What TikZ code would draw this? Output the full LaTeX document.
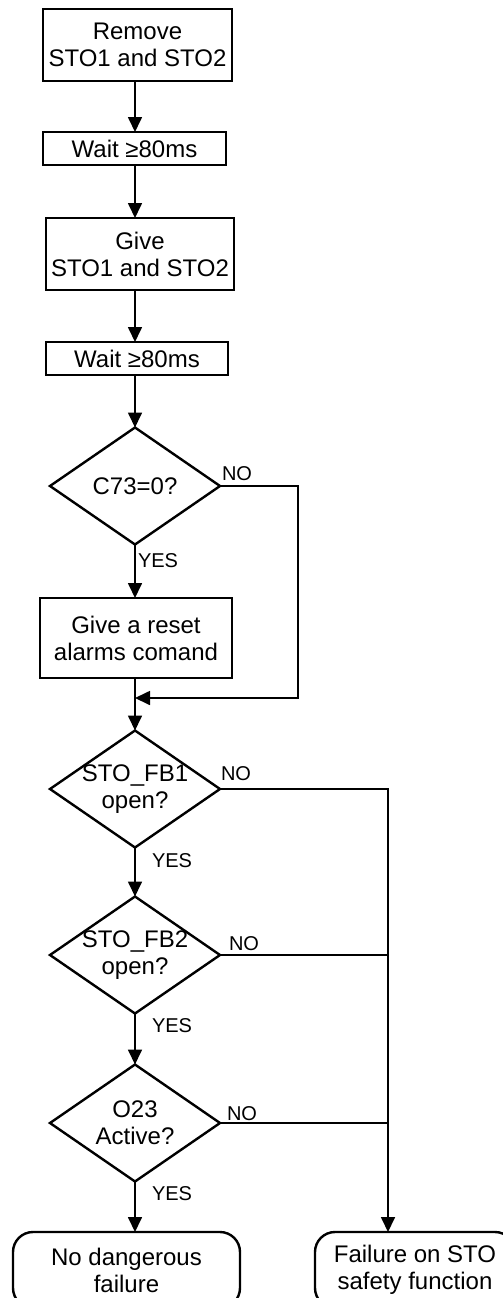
\documentclass[tikz,border=0pt]{standalone}
\usepackage{fontspec}
\setmainfont{Liberation Sans}
\usetikzlibrary{arrows.meta,shapes.geometric}
\begin{document}
\begin{tikzpicture}[x=1pt,y=-1pt,
  every node/.style={inner sep=0pt, outer sep=0pt},
  mainfont/.style={font=\fontsize{24}{27}\selectfont},
  proc/.style={draw, line width=2.4pt, align=center, mainfont},
  term/.style={draw, line width=2.4pt, rounded corners=20pt, align=center, mainfont},
  dec/.style={draw, diamond, line width=2.4pt, minimum width=170pt, minimum height=117pt},
  dtext/.style={align=center, mainfont},
  lbl/.style={font=\fontsize{20}{22}\selectfont, anchor=base west},
  conn/.style={line width=1.7pt},
  arr/.style={conn, -{Triangle[width=14pt,length=15pt]}}
]
\useasboundingbox (0,0) rectangle (503,1298);
\coordinate (col) at (135,0);
\coordinate (bus) at (388,0);
\coordinate (loop) at (298,0);
\coordinate (mrg) at (135,698);

\node[proc, minimum width=189pt, minimum height=72pt] (b1) at (137.5,45) {Remove\\STO1 and STO2};
\node[proc, minimum width=183pt, minimum height=33pt] (b2) at (134.5,148.5) {Wait ≥80ms};
\node[proc, minimum width=188pt, minimum height=72pt] (b3) at (140,254) {Give\\STO1 and STO2};
\node[proc, minimum width=182pt, minimum height=33pt] (b4) at (137,358.5) {Wait ≥80ms};
\node[dec] (d0) at (135,486) {};
\node[dtext] (d0t) at (d0) {C73=0?};
\node[proc, minimum width=192pt, minimum height=80pt] (b5) at (136,638) {Give a reset\\alarms comand};
\node[dec] (d1) at (135,789) {};
\node[dtext] (d1t) at (d1) {STO\_FB1\\open?};
\node[dec] (d2) at (135,955) {};
\node[dtext] (d2t) at (d2) {STO\_FB2\\open?};
\node[dec] (d3) at (135,1123) {};
\node[dtext] (d3t) at (d3) {O23\\Active?};
\node[term, minimum width=227pt, minimum height=76pt] (t1) at (126.5,1270) {No dangerous\\failure};
\node[term, minimum width=200pt, minimum height=76pt] (t2) at (415,1270) {Failure on STO\\safety function};

\draw[arr] (b1.south -| col) -- (b2.north -| col);
\draw[arr] (b2.south -| col) -- (b3.north -| col);
\draw[arr] (b3.south -| col) -- (b4.north -| col);
\draw[arr] (b4.south -| col) -- (d0.north);
\draw[arr] (d0.south) -- (b5.north -| d0);
\draw[arr] (b5.south -| col) -- (d1.north);
\draw[arr] (d0.east) -- (d0.east -| loop) -- (mrg -| loop) -- (mrg);
\draw[arr] (d1.south) -- (d2.north);
\draw[arr] (d2.south) -- (d3.north);
\draw[arr] (d3.south) -- (t1.north -| d3);
\draw[arr] (d1.east) -- (d1.east -| bus) -- (t2.north -| bus);
\draw[conn] (d2.east) -- (d2.east -| bus);
\draw[conn] (d3.east) -- (d3.east -| bus);

\node[lbl] (n0) at (222,480) {NO};
\node[lbl] (n1) at (221,780) {NO};
\node[lbl] (n2) at (229,950) {NO};
\node[lbl] (n3) at (227,1120) {NO};
\node[lbl] (y0) at (138,567) {YES};
\node[lbl] (y1) at (152,867) {YES};
\node[lbl] (y2) at (152,1032) {YES};
\node[lbl] (y3) at (152,1200) {YES};
\end{tikzpicture}
\end{document}
